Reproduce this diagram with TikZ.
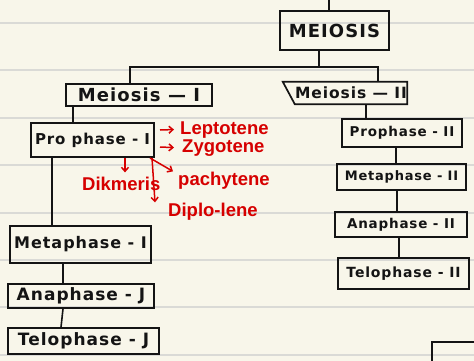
\documentclass[tikz,border=0pt]{standalone}
\usepackage{fontspec}
\usetikzlibrary{arrows.meta}
\newfontfamily\handfont[LetterSpace=6]{DejaVu Sans Bold}
\newfontfamily\redfont{Liberation Sans Bold}
\definecolor{paper}{RGB}{248,246,234}
\definecolor{rulegray}{RGB}{218,218,214}
\definecolor{ink}{RGB}{20,20,20}
\definecolor{redink}{RGB}{214,0,0}
\begin{document}
\begin{tikzpicture}[x=1pt,y=-1pt,
  box/.style={draw=ink, line width=1.7pt, inner sep=0pt},
  hand/.style={text=ink, font=\handfont\fontsize{#1}{#1}\selectfont},
  link/.style={draw=ink, line width=1.6pt},
  redtxt/.style={text=redink, inner sep=0pt, anchor=base west, font=\redfont\fontsize{18.5}{18.5}\selectfont},
  redarrow/.style={draw=redink, line width=1.5pt, -{Straight Barb[length=4pt,width=7pt]}},
  ruled/.style={draw=rulegray, line width=1.3pt}]
\useasboundingbox (0,0) rectangle (474,361);
\fill[paper] (0,0) rectangle (474,361);
\foreach \y in {23,70,118,165,213,260,307,355} \draw[ruled] (0,\y) -- (474,\y);

% boxes
\node[box, hand=18, minimum width=109pt, minimum height=39pt] (meiosis) at (334.5,30.5) {MEIOSIS};
\node[box, hand=18, minimum width=146pt, minimum height=22pt] (m1) at (139,95) {Meiosis — I};
\node[hand=15.5, inner sep=0pt, minimum width=112pt, minimum height=22pt] (m2) at (351,93) {Meiosis — II};
\draw[box] ([xshift=-12pt]m2.north west) -- (m2.north east) -- (m2.south east) -- (m2.south west) -- cycle;
\node[box, hand=15, minimum width=123pt, minimum height=34pt] (p1) at (92.5,140) {Pro phase - I};
\node[box, hand=16, minimum width=141pt, minimum height=37pt] (me1) at (80.5,244.5) {Metaphase - I};
\node[box, hand=17, minimum width=146pt, minimum height=24pt] (a1) at (81,296) {Anaphase - J};
\node[box, hand=17, minimum width=151pt, minimum height=26pt] (t1) at (83.5,341) {Telophase - J};
\node[box, hand=13.5, minimum width=120pt, minimum height=28pt] (p2) at (402,133) {Prophase - II};
\node[box, hand=13, minimum width=129pt, minimum height=26pt] (me2) at (401.5,177) {Metaphase - II};
\node[box, hand=13.5, minimum width=132pt, minimum height=25pt] (a2) at (401,224.5) {Anaphase - II};
\node[box, hand=14, minimum width=131pt, minimum height=31pt] (t2) at (403.5,273.5) {Telophase - II};

% partial box at the bottom right
\draw[box] (432,363) -- (432,342) -- (476,342);

% connectors
\coordinate (top) at (329,0);
\draw[link] (top) -- ([xshift=-5.5pt]meiosis.north);
\coordinate (j) at (319,67);
\coordinate (jl) at (130,67);
\coordinate (jr) at (378,67);
\draw[link] (meiosis.south -| j) -- (j);
\draw[link] (m1.north -| jl) -- (jl) -- (jr) -- (m2.north -| jr);
\draw[link] ([xshift=-66pt]m1.south) -- ([xshift=-19.5pt]p1.north);
\draw[link] ([xshift=-40.5pt]p1.south) -- ([xshift=-28.5pt]me1.north);
\draw[link] ([xshift=-17.5pt]me1.south) -- ([xshift=-18pt]a1.north);
\draw[link] ([xshift=-18pt]a1.south) -- ([xshift=-22.5pt]t1.north);
\draw[link] ([xshift=15pt]m2.south) -- ([xshift=-36pt]p2.north);
\draw[link] ([xshift=-6pt]p2.south) -- ([xshift=-5.5pt]me2.north);
\draw[link] ([xshift=-4.5pt]me2.south) -- ([xshift=-4pt]a2.north);
\draw[link] ([xshift=-2pt]a2.south) -- ([xshift=-4.5pt]t2.north);

% red annotations
\node[redtxt] (lep) at (180,134) {Leptotene};
\node[redtxt] (zyg) at (182,152) {Zygotene};
\node[redtxt] (pac) at (178,185) {pachytene};
\node[redtxt] (dip) at (168,216) {Diplo-lene};
\node[redtxt] (dik) at (82,190) {Dikmeris};
\coordinate (s1) at (160,130);
\coordinate (s2) at (160,147);
\coordinate (s3) at (150,158);
\coordinate (s4) at (152,158);
\coordinate (s5) at (125,158);
\draw[redarrow] (s1) -- ([xshift=-6pt]lep.west);
\draw[redarrow] (s2) -- ([xshift=-8pt]zyg.west);
\draw[redarrow] (s3) -- ([xshift=-5pt]pac.north west);
\draw[redarrow] (s4) -- ([xshift=-13pt]dip.north west);
\draw[redarrow] (s5) -- ([xshift=43pt,yshift=4pt]dik.north west);
\end{tikzpicture}
\end{document}
